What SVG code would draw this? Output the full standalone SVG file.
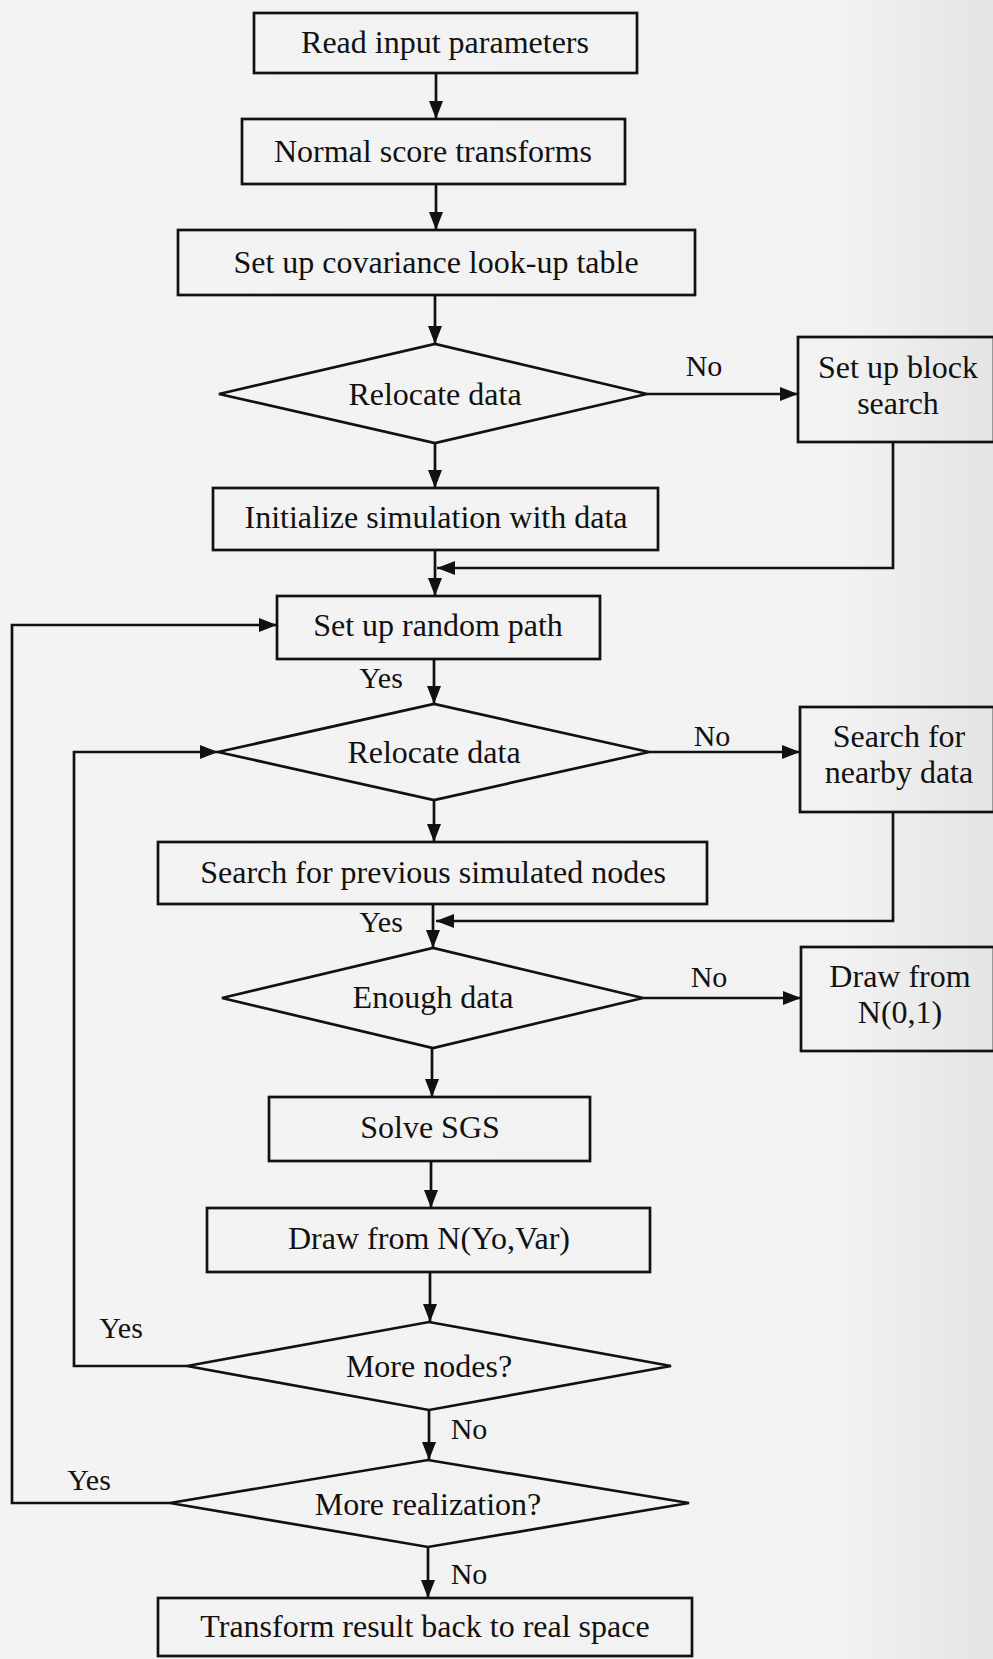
<svg xmlns="http://www.w3.org/2000/svg" width="993" height="1659" viewBox="0 0 993 1659">
  <defs>
    <linearGradient id="paper" x1="0" y1="0" x2="1" y2="0">
      <stop offset="0" stop-color="#f3f3f3"/>
      <stop offset="0.85" stop-color="#f2f2f2"/>
      <stop offset="1" stop-color="#e4e4e4"/>
    </linearGradient>
    <marker id="ah" viewBox="0 0 18 14" refX="18" refY="7" markerWidth="18" markerHeight="14" markerUnits="userSpaceOnUse" orient="auto">
      <path d="M0,0 L18,7 L0,14 z" fill="#111"/>
    </marker>
  </defs>
  <style>
    .box { fill: none; stroke: #111; stroke-width: 2.7; }
    .lbl { font-family: "Liberation Serif", "Times New Roman", serif; font-size: 32px; fill: #111; text-anchor: middle; }
    .yn { font-family: "Liberation Serif", "Times New Roman", serif; font-size: 30px; fill: #111; text-anchor: middle; }
    .arr { fill: none; stroke: #111; stroke-width: 2.7; marker-end: url(#ah); }
  </style>

  <rect x="0" y="0" width="993" height="1659" fill="url(#paper)"/>

  <!-- nodes -->
  <g id="read-input">
    <rect class="box" x="254" y="13" width="383" height="60"/>
    <text class="lbl" x="445" y="53">Read input parameters</text>
  </g>
  <g id="normal-score">
    <rect class="box" x="242" y="119" width="383" height="65"/>
    <text class="lbl" x="433" y="162">Normal score transforms</text>
  </g>
  <g id="covariance-table">
    <rect class="box" x="178" y="230" width="517" height="65"/>
    <text class="lbl" x="436" y="273">Set up covariance look-up table</text>
  </g>
  <g id="relocate-1">
    <polygon class="box" points="219,394 435,344 647,394 435,443"/>
    <text class="lbl" x="435" y="405">Relocate data</text>
  </g>
  <g id="block-search">
    <rect class="box" x="798" y="337" width="196" height="105"/>
    <text class="lbl" x="898" y="378">Set up block</text>
    <text class="lbl" x="898" y="414">search</text>
  </g>
  <g id="init-sim">
    <rect class="box" x="213" y="488" width="445" height="62"/>
    <text class="lbl" x="436" y="528">Initialize simulation with data</text>
  </g>
  <g id="random-path">
    <rect class="box" x="277" y="596" width="323" height="63"/>
    <text class="lbl" x="438" y="636">Set up random path</text>
  </g>
  <g id="relocate-2">
    <polygon class="box" points="218,752 434,704 649,752 434,800"/>
    <text class="lbl" x="434" y="763">Relocate data</text>
  </g>
  <g id="nearby-data">
    <rect class="box" x="800" y="707" width="194" height="105"/>
    <text class="lbl" x="899" y="747">Search for</text>
    <text class="lbl" x="899" y="783">nearby data</text>
  </g>
  <g id="previous-nodes">
    <rect class="box" x="158" y="842" width="549" height="62"/>
    <text class="lbl" x="433" y="883">Search for previous simulated nodes</text>
  </g>
  <g id="enough-data">
    <polygon class="box" points="222,998 433,948 643,998 433,1048"/>
    <text class="lbl" x="433" y="1008">Enough data</text>
  </g>
  <g id="draw-standard">
    <rect class="box" x="801" y="947" width="193" height="104"/>
    <text class="lbl" x="900" y="987">Draw from</text>
    <text class="lbl" x="900" y="1023">N(0,1)</text>
  </g>
  <g id="solve-sgs">
    <rect class="box" x="269" y="1097" width="321" height="64"/>
    <text class="lbl" x="430" y="1138">Solve SGS</text>
  </g>
  <g id="draw-local">
    <rect class="box" x="207" y="1208" width="443" height="64"/>
    <text class="lbl" x="429" y="1249">Draw from N(Yo,Var)</text>
  </g>
  <g id="more-nodes">
    <polygon class="box" points="187,1366 429,1322 671,1366 429,1410"/>
    <text class="lbl" x="429" y="1377">More nodes?</text>
  </g>
  <g id="more-realization">
    <polygon class="box" points="170,1503 428,1460 689,1503 428,1547"/>
    <text class="lbl" x="428" y="1515">More realization?</text>
  </g>
  <g id="back-transform">
    <rect class="box" x="158" y="1598" width="534" height="58"/>
    <text class="lbl" x="425" y="1637">Transform result back to real space</text>
  </g>

  <!-- connectors and their Yes/No labels -->
  <g id="connectors">
    <line class="arr" x1="436" y1="73" x2="436" y2="119"/>
    <line class="arr" x1="436" y1="184" x2="436" y2="230"/>
    <line class="arr" x1="435" y1="295" x2="435" y2="344"/>
    <line class="arr" x1="647" y1="394" x2="798" y2="394"/>
    <line class="arr" x1="435" y1="443" x2="435" y2="488"/>
    <line class="arr" x1="435" y1="550" x2="435" y2="596"/>
    <polyline class="arr" points="893,442 893,568 437,568"/>
    <line class="arr" x1="434" y1="659" x2="434" y2="704"/>
    <line class="arr" x1="649" y1="752" x2="800" y2="752"/>
    <line class="arr" x1="434" y1="800" x2="434" y2="842"/>
    <polyline class="arr" points="893,812 893,921 436,921"/>
    <line class="arr" x1="433" y1="904" x2="433" y2="948"/>
    <line class="arr" x1="643" y1="998" x2="801" y2="998"/>
    <line class="arr" x1="432" y1="1048" x2="432" y2="1097"/>
    <line class="arr" x1="431" y1="1161" x2="431" y2="1208"/>
    <line class="arr" x1="430" y1="1272" x2="430" y2="1322"/>
    <line class="arr" x1="429" y1="1410" x2="429" y2="1460"/>
    <line class="arr" x1="428" y1="1547" x2="428" y2="1598"/>
    <polyline class="arr" points="187,1366 74,1366 74,752 218,752"/>
    <polyline class="arr" points="170,1503 12,1503 12,625 277,625"/>

    <text class="yn" x="704" y="376">No</text>
    <text class="yn" x="381" y="688">Yes</text>
    <text class="yn" x="712" y="746">No</text>
    <text class="yn" x="381" y="932">Yes</text>
    <text class="yn" x="709" y="987">No</text>
    <text class="yn" x="121" y="1338">Yes</text>
    <text class="yn" x="469" y="1439">No</text>
    <text class="yn" x="89" y="1490">Yes</text>
    <text class="yn" x="469" y="1584">No</text>
  </g>
</svg>
